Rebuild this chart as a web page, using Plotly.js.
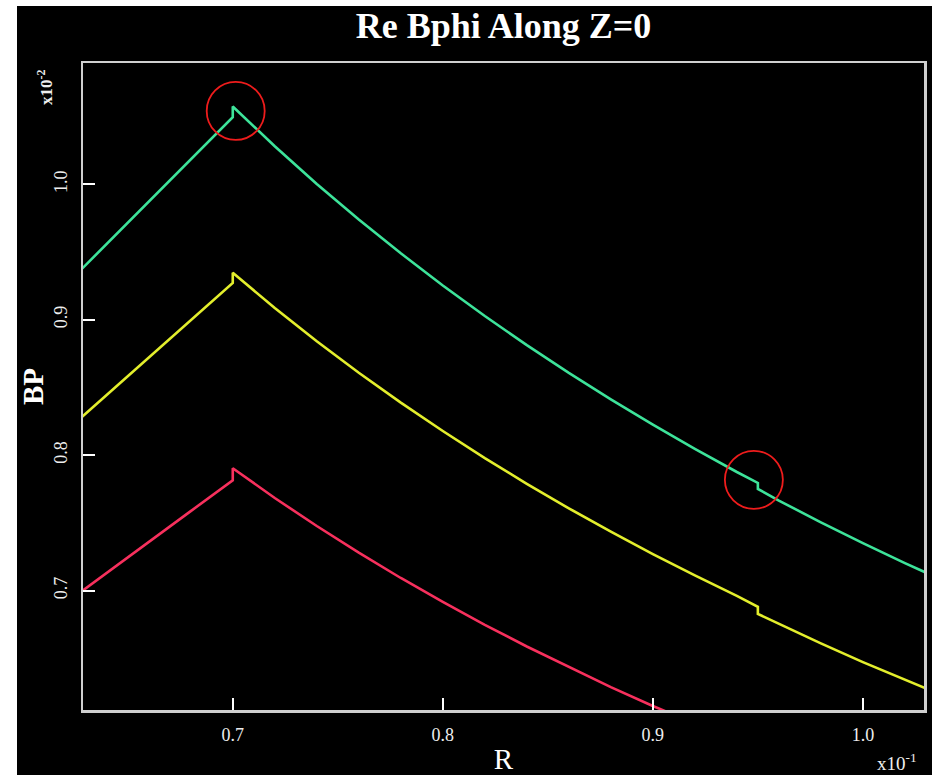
<!DOCTYPE html>
<html>
<head>
<meta charset="utf-8">
<script src="https://cdn.plot.ly/plotly-3.0.1.min.js"></script>
<style>
  html, body { margin: 0; padding: 0; background: #ffffff; width: 932px; height: 775px; overflow: hidden; }
  #chart { position: absolute; left: 17px; top: 6px; width: 915px; height: 769px; }
</style>
</head>
<body>
<div id="chart"></div>
<script>
// R positions (axis units, x10^-1); 0.70 and 0.95 appear twice for the small steps
const rValues = [0.62, 0.64, 0.66, 0.68, 0.70, 0.70, 0.72, 0.74, 0.76, 0.78, 0.80, 0.82, 0.84, 0.86, 0.88, 0.90, 0.92, 0.94, 0.95, 0.95, 0.96, 0.98, 1.00, 1.02, 1.04];

// BP values (axis units, x10^-2)
const greenBP  = [0.9249, 0.9561, 0.9873, 1.0185, 1.0497, 1.0576, 1.0282, 1.0004, 0.9741, 0.9491, 0.9254, 0.9028, 0.8813, 0.8608, 0.8413, 0.8226, 0.8047, 0.7876, 0.7795, 0.7751, 0.7665, 0.7504, 0.7350, 0.7203, 0.7063];
const yellowBP = [0.8169, 0.8445, 0.8721, 0.8997, 0.9273, 0.9347, 0.9087, 0.8842, 0.8609, 0.8388, 0.8179, 0.7979, 0.7789, 0.7608, 0.7435, 0.7270, 0.7112, 0.6961, 0.6880, 0.6828, 0.6755, 0.6610, 0.6472, 0.6340, 0.6212];
const redBP    = [0.6902, 0.7132, 0.7359, 0.7587, 0.7815, 0.7904, 0.7684, 0.7477, 0.7280, 0.7093, 0.6916, 0.6747, 0.6587, 0.6434, 0.6287, 0.6148, 0.6014, 0.5886, 0.5824, 0.5784, 0.5724, 0.5607, 0.5495, 0.5387, 0.5283];

const xTickVals = [0.7, 0.8, 0.9, 1.0];
const xTickText = ["0.7", "0.8", "0.9", "1.0"];
const yTickVals = [0.7, 0.8, 0.9, 1.0];
const yTickText = ["0.7", "0.8", "0.9", "1.0"];

const titleText = "Re Bphi Along Z=0";
const xTitle = "R";
const yTitle = "BP";

// highlighted spots (circled in red)
const circleX = [0.7014, 0.9481];
const circleY = [1.0543, 0.7818];

const serif = "Liberation Serif, Times New Roman, serif";

const traces = [
  { x: rValues, y: greenBP,  mode: "lines", line: { color: "#3de39a", width: 2.6 }, hoverinfo: "skip" },
  { x: rValues, y: yellowBP, mode: "lines", line: { color: "#e3ee2c", width: 2.6 }, hoverinfo: "skip" },
  { x: rValues, y: redBP,    mode: "lines", line: { color: "#f7305d", width: 2.6 }, hoverinfo: "skip" }
];

const shapes = circleX.map((cx, i) => ({
  type: "circle", xref: "x", yref: "y",
  xsizemode: "pixel", ysizemode: "pixel",
  xanchor: cx, yanchor: circleY[i],
  x0: -29, x1: 29, y0: -29, y1: 29,
  line: { color: "#ee1c1c", width: 1.8 }
}));

const layout = {
  width: 915, height: 769,
  paper_bgcolor: "#000000", plot_bgcolor: "#000000",
  showlegend: false,
  margin: { l: 66, r: 8, t: 57, b: 65, pad: 0 },
  title: { text: "<b>" + titleText + "</b>", x: 0.5, xanchor: "center", xref: "paper", y: 0.975, yanchor: "middle",
           font: { family: serif, size: 36, color: "#ffffff" } },
  xaxis: {
    range: [0.6287, 1.0291], showgrid: false, zeroline: false,
    showline: true, mirror: true, linecolor: "#cfcfcf", linewidth: 2.5,
    ticks: "inside", ticklen: 12, tickwidth: 2, tickcolor: "#ffffff",
    tickvals: xTickVals, ticktext: xTickText, ticklabelstandoff: 7,
    tickfont: { family: serif, size: 18, color: "#eeeeee" },
    title: { text: xTitle, standoff: 10, font: { family: serif, size: 29, color: "#ffffff" } },
    automargin: false
  },
  yaxis: {
    range: [0.6118, 1.0897], showgrid: false, zeroline: false,
    showline: true, mirror: true, linecolor: "#cfcfcf", linewidth: 2.5,
    ticks: "inside", ticklen: 12, tickwidth: 2, tickcolor: "#ffffff",
    tickvals: yTickVals, ticktext: yTickText, tickangle: -90, ticklabelstandoff: 6,
    tickfont: { family: serif, size: 18, color: "#eeeeee" },
    title: { text: "<b>" + yTitle + "</b>", standoff: 12, font: { family: serif, size: 29, color: "#ffffff" } },
    automargin: false
  },
  shapes: shapes,
  annotations: [
    { text: "<b>x10<sup>-2</sup></b>", xref: "paper", yref: "paper", x: -0.0452, y: 0.963,
      xanchor: "center", yanchor: "middle", textangle: -90, showarrow: false,
      font: { family: serif, size: 17, color: "#eeeeee" } },
    { text: "x10<sup>-1</sup>", xref: "paper", yref: "paper", x: 0.968, y: -0.080,
      xanchor: "center", yanchor: "middle", showarrow: false,
      font: { family: serif, size: 19, color: "#eeeeee" } }
  ]
};

Plotly.newPlot("chart", traces, layout, { displayModeBar: false, staticPlot: true });
</script>
</body>
</html>
